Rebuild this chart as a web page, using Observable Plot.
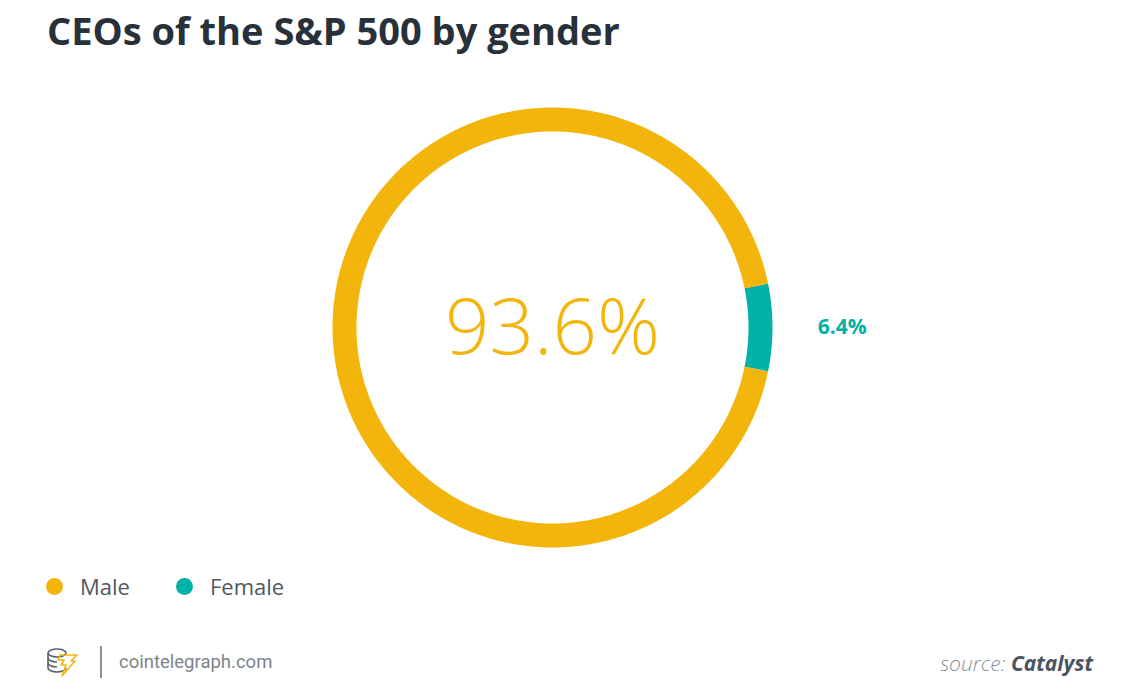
<!DOCTYPE html>
<html>
<head>
<meta charset="utf-8">
<script src="https://cdn.jsdelivr.net/npm/d3@7"></script>
<script src="https://cdn.jsdelivr.net/npm/@observablehq/plot@0.6"></script>
<style>
  html, body { margin: 0; padding: 0; background: #fff; }
  #root { position: relative; width: 1140px; height: 694px; overflow: hidden; font-family: "Open Sans", sans-serif; }
  #title { position: absolute; left: 47px; top: 4px; font-size: 38px; font-weight: 700; color: #283139; letter-spacing: 0px; white-space: nowrap; }
  #chart { position: absolute; left: 0; top: 80px; }
  #legend { position: absolute; left: 46px; top: 571px; display: flex; align-items: center; font-size: 22px; color: #4f5860; }
  .item { display: flex; align-items: center; margin-right: 46px; }
  .dot { width: 17px; height: 17px; border-radius: 50%; margin-right: 17px; }
  #footer-left { position: absolute; left: 46px; top: 646px; display: flex; align-items: center; }
  #divider { width: 2px; height: 32px; background: #8a9096; margin: 0 17px 0 20px; }
  #site { font-family: Roboto, sans-serif; font-size: 18.5px; color: #7d848a; font-weight: 400; }
  #source { position: absolute; right: 47px; top: 649px; font-size: 21px; font-style: italic; color: #8a9096; font-weight: 300; white-space: nowrap; }
  #source b { color: #4a5560; font-weight: 700; }
</style>
</head>
<body>
<div id="root">
  <div id="title">CEOs of the S&amp;P 500 by gender</div>
  <div id="chart"></div>
  <div id="legend"></div>
  <div id="footer-left">
    <svg width="34" height="32" viewBox="0 0 34 32">
      <g fill="none" stroke="#5b636a" stroke-width="1.6">
        <ellipse cx="11" cy="7" rx="9" ry="4"/>
        <path d="M2 7v5c0 2.2 4 4 9 4"/>
        <path d="M2 12v5c0 2.2 4 4 9 4"/>
        <path d="M2 17v5c0 2.2 4 4 9 4s9-1.8 9-4"/>
      </g>
      <path d="M14 9h17l-6 6h4l-13 15 4-11h-5l3-5h-6z" fill="none" stroke="#f3b50c" stroke-width="1.6" stroke-linejoin="round"/>
    </svg>
    <div id="divider"></div>
    <div id="site">cointelegraph.com</div>
  </div>
  <div id="source">source: <b>Catalyst</b></div>
</div>
<script>
// ---- data ----
const categories = ["Male", "Female"];
const shares = [93.6, 6.4];
const colors = ["#f3b50c", "#00b1a7"];
const labels = ["93.6%", "6.4%"];

// ---- build arc sample points from the shares ----
const total = d3.sum(shares);
const femaleFrac = shares[1] / total;
const order = [1, 0]; // Female centred on 3 o'clock, Male follows
const arcPts = [];
let a0 = -femaleFrac * Math.PI;
for (const i of order) {
  const span = shares[i] / total * 2 * Math.PI;
  const n = Math.max(8, Math.round(span / (2 * Math.PI) * 360));
  for (let k = 0; k <= n; k++) {
    const t = a0 + span * k / n;
    arcPts.push({cat: categories[i], x: Math.cos(t), y: Math.sin(t)});
  }
  a0 += span;
}

const textData = [
  {label: labels[0], cat: categories[0], r: 0},
  {label: labels[1], cat: categories[1], r: 1.275}
];

const H = 480;
const cx = 552, cy = 327 - 80, R = 208;
const plot = Plot.plot({
  width: 1140,
  height: H,
  marginLeft: cx - R,
  marginRight: 1140 - (cx + R),
  marginTop: cy - R,
  marginBottom: H - (cy + R),
  x: {domain: [-1, 1], axis: null},
  y: {domain: [-1, 1], axis: null},
  color: {domain: categories, range: colors},
  style: {fontFamily: "'Open Sans', sans-serif", background: "transparent"},
  marks: [
    Plot.line(arcPts, {x: "x", y: "y", z: "cat", stroke: "cat", strokeWidth: 24, strokeLinecap: "butt", curve: "linear"}),
    Plot.text([textData[0]], {x: "r", y: () => 0, text: "label", fill: "cat", fontSize: 78, fontWeight: 300, textAnchor: "middle", dy: 2}),
    Plot.text([textData[1]], {x: "r", y: () => 0, text: "label", fill: "cat", fontSize: 21, fontWeight: 700, textAnchor: "start"})
  ]
});
document.getElementById("chart").appendChild(plot);

// legend
const legend = document.getElementById("legend");
categories.forEach((c, i) => {
  const it = document.createElement("div");
  it.className = "item";
  it.innerHTML = `<div class="dot" style="background:${colors[i]}"></div><span>${c}</span>`;
  legend.appendChild(it);
});
</script>
</body>
</html>
